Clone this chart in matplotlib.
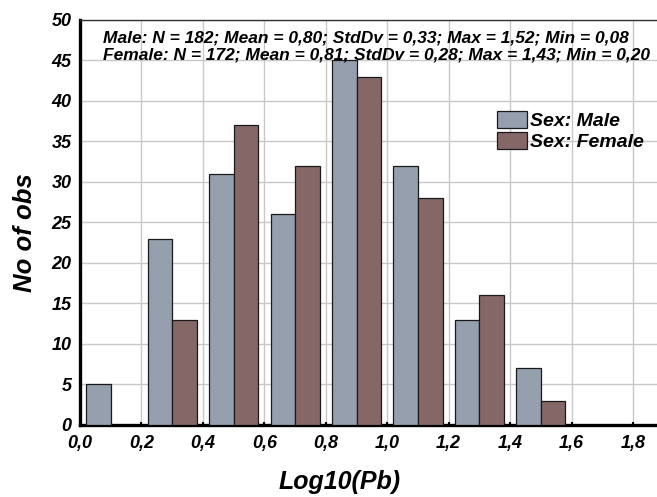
import matplotlib.pyplot as plt
import numpy as np

bin_starts = [0.0, 0.2, 0.4, 0.6, 0.8, 1.0, 1.2, 1.4]
male_counts = [5, 23, 31, 26, 45, 32, 13, 7]
female_counts = [0, 13, 37, 32, 43, 28, 16, 3]
x_ticks = [0.0, 0.2, 0.4, 0.6, 0.8, 1.0, 1.2, 1.4, 1.6, 1.8]
y_ticks = [0, 5, 10, 15, 20, 25, 30, 35, 40, 45, 50]
stats_lines = [
    "Male: N = 182; Mean = 0,80; StdDv = 0,33; Max = 1,52; Min = 0,08",
    "Female: N = 172; Mean = 0,81; StdDv = 0,28; Max = 1,43; Min = 0,20",
]

plt.rcParams["font.family"] = "Liberation Sans"
font = dict(weight="bold", style="italic")

fig = plt.figure(figsize=(6.57, 4.97), dpi=100)
ax = fig.add_axes([0.1218, 0.1449, 0.8782, 0.8149])

starts = np.array(bin_starts)
width = 0.08
ax.bar(starts + 0.02, male_counts, width=width, align="edge",
       color="#959fae", edgecolor="#1a1a1a", linewidth=0.9,
       label="Sex: Male", zorder=3)
female_bars = [(s, c) for s, c in zip(starts, female_counts) if c > 0]
ax.bar([s + 0.10 for s, _ in female_bars], [c for _, c in female_bars],
       width=width, align="edge", color="#866767", edgecolor="#1a1a1a",
       linewidth=0.9, label="Sex: Female", zorder=3)

ax.set_xlim(0, 1.878)
ax.set_ylim(0, 50)
ax.set_xticks(x_ticks)
ax.set_xticklabels([f"{t:.1f}".replace(".", ",") for t in x_ticks],
                   fontsize=13, **font)
ax.set_yticks(y_ticks)
ax.set_yticklabels([str(t) for t in y_ticks], fontsize=13, **font)
ax.tick_params(axis="x", length=2.5, width=1.5, direction="in", pad=7)
ax.tick_params(axis="y", length=0, pad=6)
ax.grid(True, color="#c8c8c8", linewidth=1.0, zorder=0)

for side in ("left", "bottom"):
    ax.spines[side].set_linewidth(2.4)
ax.spines["top"].set_linewidth(1.0)
ax.spines["top"].set_color("#333333")
ax.spines["right"].set_visible(False)

ax.set_xlabel("Log10(Pb)", fontsize=18, **font)
ax.xaxis.set_label_coords(0.45, -0.11)
ax.set_ylabel("No of obs", fontsize=18.5, **font)
ax.yaxis.set_label_coords(-0.075, 0.474)

ax.text(0.04, 0.975, "\n".join(stats_lines), transform=ax.transAxes,
        ha="left", va="top", fontsize=12.5, linespacing=1.22, **font)

ax.legend(loc="upper left", bbox_to_anchor=(0.709, 0.795), frameon=False,
          prop=dict(size=14, **font), handlelength=1.55, handleheight=1.0,
          handletextpad=0.15, labelspacing=0.1, borderaxespad=0)

fig.savefig("out.png", dpi=100)
